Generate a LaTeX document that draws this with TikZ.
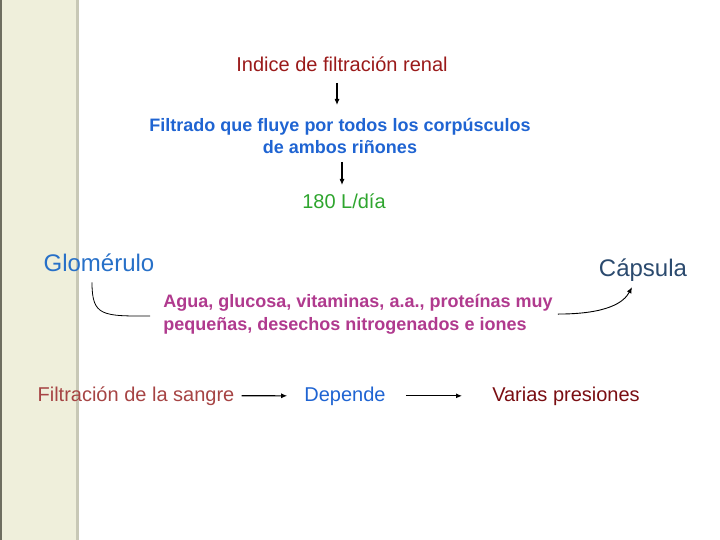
\documentclass[tikz,border=0pt]{standalone}
\usepackage{fontspec}
\setmainfont{Liberation Sans}
\usetikzlibrary{arrows.meta,positioning}
\definecolor{SlideStrip}{HTML}{EFEFDB}
\definecolor{SlideStripEdge}{HTML}{C8C8B6}
\definecolor{SlideStripLine}{HTML}{6E6E60}
\definecolor{RenalRed}{HTML}{9A1A1A}
\definecolor{RenalBlue}{HTML}{1F64D2}
\definecolor{RenalSky}{HTML}{2770C8}
\definecolor{RenalSlate}{HTML}{2B4A6E}
\definecolor{RenalGreen}{HTML}{2EA52E}
\definecolor{RenalPink}{HTML}{B03A8E}
\definecolor{RenalBrick}{HTML}{A64444}
\definecolor{RenalWine}{HTML}{7A0E12}
\tikzset{
  lbl/.style={inner sep=0pt, anchor=base, font=\fontsize{20}{23}\selectfont},
  boldlbl/.style={lbl, font=\fontsize{18}{22.5}\selectfont\bfseries, align=center},
  biglbl/.style={lbl, font=\fontsize{24}{28}\selectfont},
  arr/.style={-{Latex[length=6pt,width=5pt]}, line width=1.1pt, black},
}
\begin{document}
\begin{tikzpicture}[x=1pt,y=-1pt]
    \useasboundingbox (0,0) rectangle (720,540);

    % Side strip
    \fill[SlideStrip] (0,0) rectangle (76,540);
    \fill[SlideStripEdge] (76,0) rectangle (79,540);
    \fill[SlideStripLine] (0,0) rectangle (2,540);

    % Top chain
    \node[lbl, RenalRed] (idx) at (342,72) {Indice de filtración renal};
    \node[boldlbl, RenalBlue] (flt) at (340,154) {Filtrado que fluye por todos los corpúsculos\\de ambos riñones};
    \node[lbl, RenalGreen] (day) at (344,208) {180 L/día};

    \draw[arr] ([xshift=-5pt,yshift=-11pt]idx.base) -- ([xshift=-5pt,yshift=-33pt]idx.base);
    \draw[arr] ([xshift=2pt,yshift=-8pt]flt.base) -- ([xshift=2pt,yshift=-31pt]flt.base);

    % Glomerulus to capsule
    \node[biglbl, RenalSky] (glom) at (99,271) {Glomérulo};
    \node[biglbl, RenalSlate] (caps) at (643,276) {Cápsula};
    \node[boldlbl, RenalPink, align=left] (agua) at (358,330) {Agua, glucosa, vitaminas, a.a., proteínas muy\\pequeñas, desechos nitrogenados e iones};

    \draw[line width=0.8pt] ([xshift=-7pt,yshift=-11pt]glom.south) .. controls +(0,34) and +(-48,0) .. ([xshift=-13pt,yshift=-2pt]agua.west);
    \draw[arr, line width=0.9pt] ([xshift=5pt]agua.east) .. controls +(50,0) and +(-8,15) .. ([xshift=-11pt,yshift=-6pt]caps.south);

    % Bottom chain
    \node[lbl, RenalBrick] (blood) at (136,401) {Filtración de la sangre};
    \node[lbl, RenalBlue] (dep) at (345,401) {Depende};
    \node[lbl, RenalWine] (pres) at (566,401) {Varias presiones};

    \draw[arr] ([xshift=7pt]blood.east) -- ([xshift=-17pt]dep.west);
    \draw[arr] ([xshift=20pt]dep.east) -- ([xshift=-30pt]pres.west);
  \end{tikzpicture}
\end{document}
